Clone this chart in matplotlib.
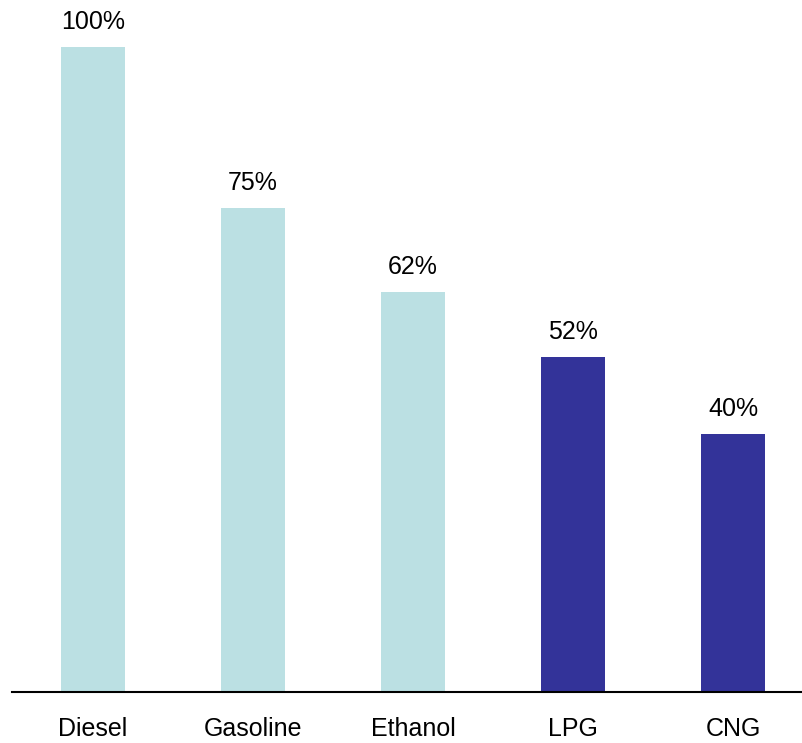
import numpy as np
import matplotlib.pyplot as plt

plt.rcParams["font.family"] = ["Liberation Sans", "DejaVu Sans"]

fuels = ["Diesel", "Gasoline", "Ethanol", "LPG", "CNG"]
shares = [100, 75, 62, 52, 40]
bar_colors = ["#BBE0E3", "#BBE0E3", "#BBE0E3", "#333399", "#333399"]

fig = plt.figure(figsize=(8.03, 7.43), dpi=100)
ax = fig.add_axes([12 / 803, 51 / 743, 791 / 803, 692 / 743])

x = np.arange(len(fuels))
bars = ax.bar(x, shares, width=0.4, color=bar_colors)

for rect, value in zip(bars, shares):
    ax.annotate(
        f"{value}%",
        xy=(rect.get_x() + rect.get_width() / 2, rect.get_height()),
        xytext=(0, 13),
        textcoords="offset points",
        ha="center",
        va="baseline",
        fontsize=18,
    )

ax.set_xlim(-0.506, 4.4375)
ax.set_ylim(0, 107.3)

ax.set_xticks(x)
ax.set_xticklabels(fuels, fontsize=18)
ax.tick_params(axis="x", length=0, pad=18)
ax.set_yticks([])

for side in ["top", "right", "left"]:
    ax.spines[side].set_visible(False)
ax.spines["bottom"].set_linewidth(1.5)

fig.savefig("out.png", dpi=100)
plt.close(fig)
